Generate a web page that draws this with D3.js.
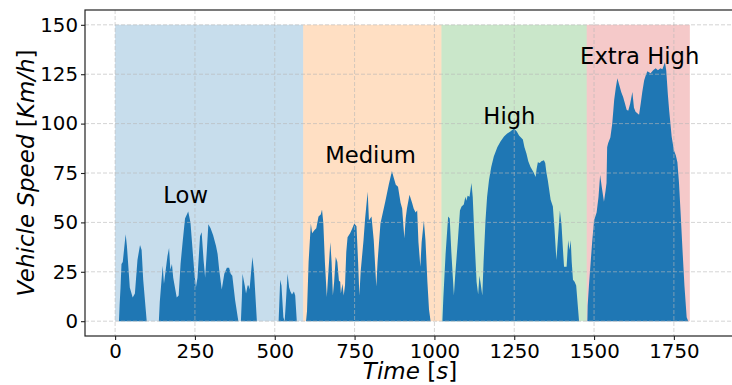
<!DOCTYPE html>
<html>
<head>
<meta charset="utf-8">
<script src="https://cdn.jsdelivr.net/npm/d3@7/dist/d3.min.js"></script>
<style>
body { margin: 0; background: #fff; }
#chart { width: 732px; height: 385px; overflow: hidden; }
text { font-family: "DejaVu Sans", sans-serif; fill: #000; }
.grid line { stroke: #b8b8b8; stroke-opacity: 0.6; stroke-width: 1; stroke-dasharray: 4,2; }
.axis text { font-size: 19.8px; }
.axis line { stroke: #222; stroke-width: 1.1; }
</style>
</head>
<body>
<div id="chart"></div>
<script>
// speed trace, [time s, speed km/h]
var lowPhase = [[0,0],[12,0],[14,8],[17,17],[20,29],[24,30],[33,44],[37,38],[46,17],[55,12],[62,14],[70,31],[78,38.5],[83,36],
	[88,21],[99,0],[137,0],[140,10],[149,28],[153,19],[164,33],[169,37],[173,26],[178,29],[182,22],[193,12],[199,13],[205,29],
	[212,41],[219,52],[229,55.5],[236,50],[247,27],[253,17],[258,22],[266,43],[271,45],[277,31],[282,22],[287,35],[292,49],
	[299,47],[307,43.5],[316,38],[321,34],[326,26],[334,16],[342,24],[350,27],[357,27],[362,24],[367,23],[376,10.5],[386,0],
	[394,0],[397,12],[399,24],[406,18],[410,14],[415,18],[418,18],[421,16],[430,32.5],[435,25],[444,0],[512,0],[514,8],
	[517,21],[521,18],[527,2],[531,0],[535,10],[540,24],[545,17],[549,15],[554,13.5],[560,15],[564,13],[569,0],[589,0]];
var mediumPhase = [[598,0],[601,5],[606,30],[613,49.5],[617,44.5],[624,46],[630,47],[637,53],[644,54],[648,56.5],[652,50],
	[657,30],[663,12.3],[668,25],[674,40],[678,30],[682,13],[686,20],[691,32.5],[696,30],[701,20.5],[705,20],[707,14],[712,19],
	[716,13],[720,18],[724,35],[728,42.5],[736,44.5],[743,47],[749,49.5],[756,48],[761,30],[765,13],[769,25],[778,41],[783,52],
	[791,65.5],[795,51],[803,53],[810,41],[818,17.5],[822,30],[831,49.5],[846,60.5],[857,69],[867,76],[872,73],[879,69],
	[886,68],[894,60],[899,57],[903,48],[906,42],[910,52],[914,57],[922,64],[930,60],[935,57],[941,55],[946,56],[950,40],
	[956,27.5],[960,40],[967,51],[972,41],[978,20],[983,6],[988,0],[1022,0]];
var highPhase = [[1025,0],[1028,12],[1035,34],[1043,53],[1048,52],[1053,35],[1061,13],[1065,23],[1073,40],[1080,56],[1085,58],
	[1092,59],[1097,63],[1100,61],[1104,63.5],[1110,63],[1116,70],[1120,63],[1126,40],[1132,20],[1137,13.5],[1141,23],[1144,20],
	[1150,13],[1154,30],[1160,51],[1165,63],[1171,71.5],[1178,78],[1186,83.3],[1197,88],[1207,91],[1218,93.5],[1228,95],
	[1238,96],[1249,97.5],[1258,96],[1265,94],[1277,92],[1282,88],[1288,85],[1294,81],[1301,78],[1310,75.5],[1317,73],
	[1320,77],[1324,80.5],[1330,80],[1335,81],[1343,81.5],[1347,80],[1351,75],[1355,71.5],[1364,61.5],[1371,58],[1376,47],
	[1382,31],[1387,42],[1393,56],[1398,49],[1403,35],[1406,27.5],[1414,27.5],[1419,41],[1423,36],[1427,41],[1430,30],
	[1434,21],[1439,20],[1444,18],[1449,8],[1453,0],[1477,0]];
var extraHighPhase = [[1479,0],[1480,8],[1484,18],[1489,29],[1494,40],[1500,51],[1504,53],[1508,55],[1514,63],[1519,74],
	[1524,68],[1531,60.5],[1536,66],[1539,70],[1541,88],[1544,90],[1551,93],[1557,100],[1563,112],[1568,118],[1573,123],
	[1578,120],[1585,116],[1591,113.5],[1597,110],[1602,107],[1607,106.5],[1613,110],[1620,116],[1625,108],[1630,106],
	[1641,104.5],[1646,110],[1651,116],[1657,122],[1662,124.5],[1667,126.5],[1677,125.5],[1685,127],[1693,128],[1700,127],
	[1708,128],[1714,127.5],[1722,131],[1726,127],[1731,115],[1735,107],[1743,93.5],[1750,86.5],[1756,84],[1761,80.5],
	[1766,70],[1771,55],[1777,36],[1783,18],[1790,2],[1795,0],[1800,0]];

var phaseNames  = ['Low', 'Medium', 'High', 'Extra High'];
var phaseBounds = [0, 589, 1022, 1477, 1800];
var phaseColors = ['#1f77b4', '#ff7f0e', '#2ca02c', '#d62728'];
var labelTimes  = [221, 800, 1235, 1643];
var labelSpeeds = [60, 80, 100, 130];
var spanTop     = 150;

var xTicks = [0, 250, 500, 750, 1000, 1250, 1500, 1750];
var yTicks = [0, 25, 50, 75, 100, 125, 150];

function SpeedChart(config) {
	var me = this;
	me.parentNode = d3.select('#' + config.parentId);
	me.width  = config.width;
	me.height = config.height;
	me.margin = {top: 10, right: 0, bottom: 49, left: 85};
	me.viewWidth  = me.width  - me.margin.left - me.margin.right;
	me.viewHeight = me.height - me.margin.top  - me.margin.bottom;
	me.trace = lowPhase.concat(mediumPhase, highPhase, extraHighPhase);
	me.initVisuals();
	me.draw();
}

SpeedChart.prototype.initVisuals = function() {
	var me = this;
	me.svg = me.parentNode.append('svg')
		.attr('width',  me.width)
		.attr('height', me.height);
	me.vis = me.svg.append('g')
		.attr('transform', 'translate(' + me.margin.left + ',' + me.margin.top + ')');

	me.xScale = d3.scaleLinear()
		.domain([-94.3, 1932])
		.range([0, me.viewWidth]);
	me.yScale = d3.scaleLinear()
		.domain([-7.5, 157.5])
		.range([me.viewHeight, 0]);
}

SpeedChart.prototype.draw = function() {
	var me = this;
	me.drawPhases();
	me.drawTrace();
	me.drawGrid();
	me.drawAxes();
	me.drawLabels();
}

SpeedChart.prototype.drawPhases = function() {
	var me = this;
	me.vis.append('g')
		.selectAll('rect')
		.data(phaseNames)
		.enter().append('rect')
		.attr('x', function(d, i) { return me.xScale(phaseBounds[i]); })
		.attr('width', function(d, i) { return me.xScale(phaseBounds[i + 1]) - me.xScale(phaseBounds[i]); })
		.attr('y', me.yScale(spanTop))
		.attr('height', me.yScale(0) - me.yScale(spanTop))
		.attr('fill', function(d, i) { return phaseColors[i]; })
		.attr('fill-opacity', 0.25);
}

SpeedChart.prototype.drawTrace = function() {
	var me = this;
	var area = d3.area()
		.x(function(d) { return me.xScale(d[0]); })
		.y0(me.yScale(0))
		.y1(function(d) { return me.yScale(d[1]); });
	me.vis.append('path')
		.datum(me.trace)
		.attr('d', area)
		.attr('fill', '#1f77b4');
}

SpeedChart.prototype.drawGrid = function() {
	var me = this;
	var grid = me.vis.append('g').attr('class', 'grid');
	grid.selectAll('line.gx')
		.data(xTicks)
		.enter().append('line')
		.attr('class', 'gx')
		.attr('x1', function(d) { return me.xScale(d); })
		.attr('x2', function(d) { return me.xScale(d); })
		.attr('y1', 0)
		.attr('y2', me.viewHeight);
	grid.selectAll('line.gy')
		.data(yTicks)
		.enter().append('line')
		.attr('class', 'gy')
		.attr('x1', 0)
		.attr('x2', me.viewWidth + 10)
		.attr('y1', function(d) { return me.yScale(d); })
		.attr('y2', function(d) { return me.yScale(d); });
}

SpeedChart.prototype.drawAxes = function() {
	var me = this;
	var xAxis = d3.axisBottom(me.xScale)
		.tickValues(xTicks)
		.tickFormat(d3.format('d'))
		.tickSize(4)
		.tickPadding(4);
	var yAxis = d3.axisLeft(me.yScale)
		.tickValues(yTicks)
		.tickFormat(d3.format('d'))
		.tickSize(4)
		.tickPadding(3);

	me.vis.append('g')
		.attr('class', 'axis')
		.attr('transform', 'translate(0,' + me.viewHeight + ')')
		.call(xAxis)
		.select('.domain').remove();
	me.vis.append('g')
		.attr('class', 'axis')
		.call(yAxis)
		.select('.domain').remove();

	// frame (right spine sits at the page edge)
	me.vis.append('rect')
		.attr('x', 0)
		.attr('y', 0)
		.attr('width', me.viewWidth + 2)
		.attr('height', me.viewHeight)
		.attr('fill', 'none')
		.attr('stroke', '#222')
		.attr('stroke-width', 1.2);

	var xLabel = me.svg.append('text')
		.attr('x', 410)
		.attr('y', 379)
		.attr('text-anchor', 'middle')
		.style('font-size', '23px');
	xLabel.append('tspan').style('font-style', 'italic').text('Time');
	xLabel.append('tspan').text(' [');
	xLabel.append('tspan').style('font-style', 'italic').text('s');
	xLabel.append('tspan').text(']');

	var yLabel = me.svg.append('text')
		.attr('transform', 'translate(34,' + (me.margin.top + me.viewHeight / 2) + ') rotate(-90)')
		.attr('text-anchor', 'middle')
		.style('font-size', '23px');
	yLabel.append('tspan').style('font-style', 'italic').text('Vehicle Speed');
	yLabel.append('tspan').text(' [');
	yLabel.append('tspan').style('font-style', 'italic').text('Km/h');
	yLabel.append('tspan').text(']');
}

SpeedChart.prototype.drawLabels = function() {
	var me = this;
	me.vis.append('g')
		.selectAll('text')
		.data(phaseNames)
		.enter().append('text')
		.attr('x', function(d, i) { return me.xScale(labelTimes[i]); })
		.attr('y', function(d, i) { return me.yScale(labelSpeeds[i]); })
		.attr('text-anchor', 'middle')
		.style('font-size', '22.7px')
		.text(function(d) { return d; });
}

new SpeedChart({parentId: 'chart', width: 732, height: 385});
</script>
</body>
</html>
